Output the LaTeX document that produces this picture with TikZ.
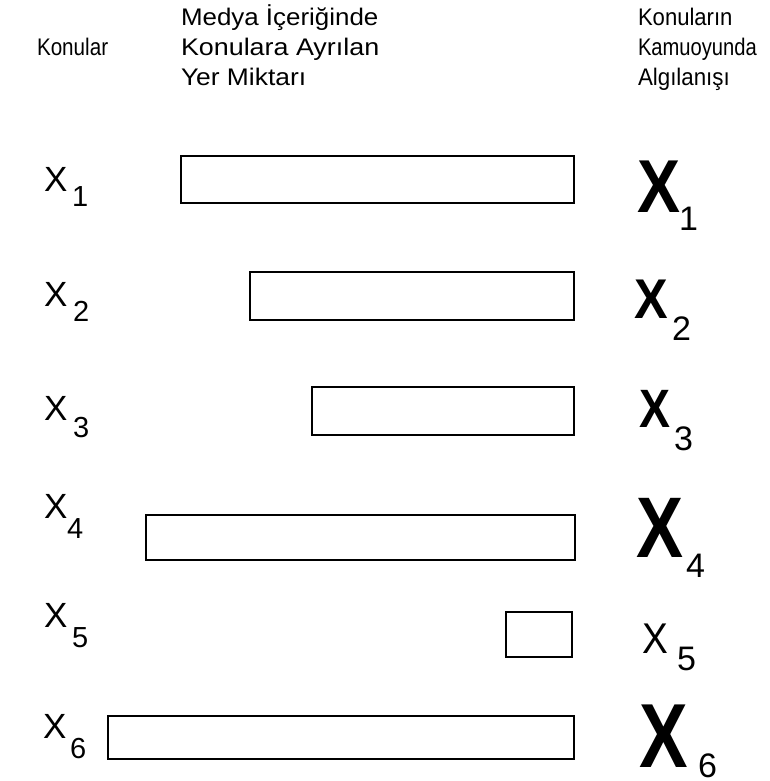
\documentclass[tikz,border=0pt]{standalone}
\usepackage{fontspec}
\setmainfont{Liberation Sans}
\begin{document}
\begin{tikzpicture}[x=1pt,y=-1pt,
  txt/.style={anchor=base west,inner sep=0pt,outer sep=0pt},
  hdr/.style={txt,font=\fontsize{24}{30}\selectfont},
  lx/.style={txt,font=\fontsize{35}{35}\selectfont},
  ls/.style={txt,font=\fontsize{29}{29}\selectfont},
  rs/.style={txt,font=\fontsize{34}{34}\selectfont},
  barbox/.style={draw=black,line width=2.2pt}]
\useasboundingbox (0,0) rectangle (769,781);
% headers
\node[hdr] (h1) at (37,56) {\scalebox{0.86}[1]{Konular}};
\node[hdr] (h2a) at (181,26) {\scalebox{1.08}[1]{Medya İçeriğinde}};
\node[hdr] (h2b) at (181,56) {\scalebox{1.12}[1]{Konulara Ayrılan}};
\node[hdr] (h2c) at (181,86) {\scalebox{1.1}[1]{Yer Miktarı}};
\node[hdr] (h3a) at (638,26) {\scalebox{0.92}[1]{Konuların}};
\node[hdr] (h3b) at (638,56) {\scalebox{0.84}[1]{Kamuoyunda}};
\node[hdr] (h3c) at (638,86) {\scalebox{0.93}[1]{Algılanışı}};
% left labels
\node[lx] (l1) at (44,191) {X}; \node[ls] (l1s) at (72,206) {1};
\node[lx] (l2) at (44,306) {X}; \node[ls] (l2s) at (73,321) {2};
\node[lx] (l3) at (44,420) {X}; \node[ls] (l3s) at (73,437) {3};
\node[lx] (l4) at (44,518) {X}; \node[ls] (l4s) at (67,538) {4};
\node[lx] (l5) at (44,627) {X}; \node[ls] (l5s) at (72,647) {5};
\node[lx] (l6) at (43,738) {X}; \node[ls] (l6s) at (70,758) {6};
% bars
\draw[barbox] (181,156) rectangle (574,203);
\draw[barbox] (250,272) rectangle (574,320);
\draw[barbox] (312,387) rectangle (574,435);
\draw[barbox] (146,515) rectangle (575,560);
\draw[barbox] (506,612) rectangle (572,657);
\draw[barbox] (108,716) rectangle (574,759);
% right labels
\node[txt] (r1) at (637,212) {\scalebox{0.86}[1]{\fontsize{75}{75}\selectfont\bfseries X}};
\node[rs] (r1s) at (679,230) {1};
\node[txt] (r2) at (634,318) {\scalebox{0.9}[1]{\fontsize{56}{56}\selectfont\bfseries X}};
\node[rs] (r2s) at (672,340) {2};
\node[txt] (r3) at (639,427) {\scalebox{0.86}[1]{\fontsize{54}{54}\selectfont\bfseries X}};
\node[rs] (r3s) at (674,450) {3};
\node[txt] (r4) at (636,557) {\scalebox{0.82}[1]{\fontsize{86}{86}\selectfont\bfseries X}};
\node[rs] (r4s) at (686,577) {4};
\node[txt] (r5) at (642,653) {\scalebox{0.9}[1]{\fontsize{43}{43}\selectfont X}};
\node[rs] (r5s) at (677,670) {5};
\node[txt] (r6) at (639,767) {\scalebox{0.8}[1]{\fontsize{91}{91}\selectfont\bfseries X}};
\node[rs] (r6s) at (698,777) {6};
\end{tikzpicture}
\end{document}
